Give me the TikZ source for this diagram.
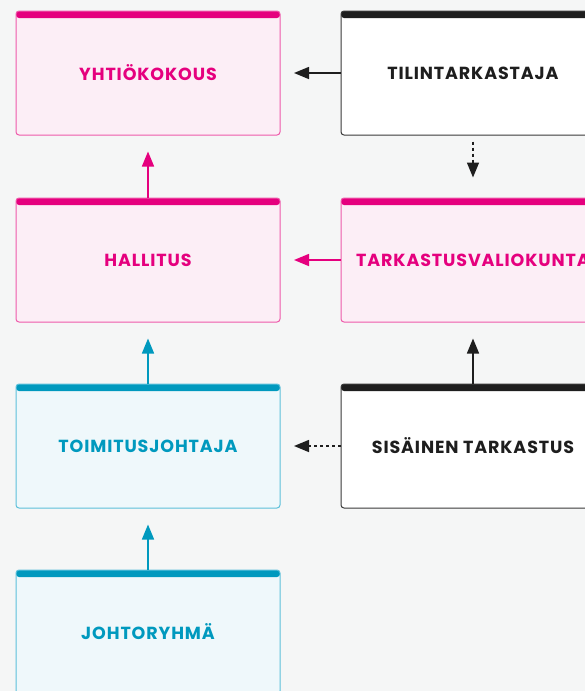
\documentclass[tikz,border=0pt]{standalone}
\usepackage{fontspec}
\setmainfont{Poppins}[LetterSpace=5]
\usetikzlibrary{arrows.meta}
\definecolor{bg}{HTML}{F5F6F6}
\definecolor{mag}{HTML}{E5007E}
\definecolor{magline}{HTML}{EE5AAA}
\definecolor{magfill}{HTML}{FCEEF6}
\definecolor{teal}{HTML}{0099BE}
\definecolor{tealline}{HTML}{5CC0DA}
\definecolor{tealfill}{HTML}{EFF8FB}
\definecolor{blk}{HTML}{1E1E1E}
\definecolor{blkline}{HTML}{3A3A3A}
\tikzset{
  orgbox/.style={minimum width=264pt, minimum height=124pt, inner sep=0pt,
    rounded corners=3pt, line width=1pt, font=\bfseries\fontsize{17.5}{20}\selectfont,
    path picture={\fill[#1] (path picture bounding box.north west) rectangle ([yshift=-7pt]path picture bounding box.north east);}},
  magbox/.style={orgbox=mag, draw=magline, fill=magfill, text=mag},
  tealbox/.style={orgbox=teal, draw=tealline, fill=tealfill, text=teal},
  blkbox/.style={orgbox=blk, draw=blkline, fill=white, text=blk},
  conn/.style={line width=1.5pt, -{Triangle[length=15pt,width=12pt]}},
  dconn/.style={conn, dash pattern=on 3pt off 3pt},
}
\newcommand{\lbl}[1]{\raisebox{-2.5pt}{#1}}
\begin{document}
\begin{tikzpicture}[x=1pt,y=-1pt]
\useasboundingbox (0,0) rectangle (585,691);
\clip (0,0) rectangle (585,691);
\fill[bg] (0,0) rectangle (585,691);
\node[magbox] (yk) at (148,73) {\lbl{YHTIÖKOKOUS}};
\node[blkbox] (tt) at (473,73) {\lbl{TILINTARKASTAJA}};
\node[magbox] (hal) at (148,260) {\lbl{HALLITUS}};
\node[magbox] (tv) at (473,260) {\lbl{TARKASTUSVALIOKUNTA}};
\node[tealbox] (tj) at (148,446) {\lbl{TOIMITUSJOHTAJA}};
\node[blkbox] (st) at (473,446) {\lbl{SISÄINEN TARKASTUS}};
\node[tealbox] (jr) at (148,632) {\lbl{JOHTORYHMÄ}};
\coordinate (a1) at (294,73);
\coordinate (a2) at (294,260);
\coordinate (a3) at (294,446);
\draw[conn, blk] (tt.west) -- (a1);
\draw[conn, mag] (tv.west) -- (a2);
\draw[dconn, blk] (st.west) -- (a3);
\draw[conn, mag] (hal.north) -- ([yshift=-16pt]yk.south);
\draw[conn, teal] (tj.north) -- ([yshift=-16pt]hal.south);
\draw[conn, teal] (jr.north) -- ([yshift=-16pt]tj.south);
\draw[dconn, blk] ([yshift=-6pt]tt.south) -- ([yshift=20pt]tv.north);
\draw[conn, blk] (st.north) -- ([yshift=-16pt]tv.south);
\end{tikzpicture}
\end{document}
